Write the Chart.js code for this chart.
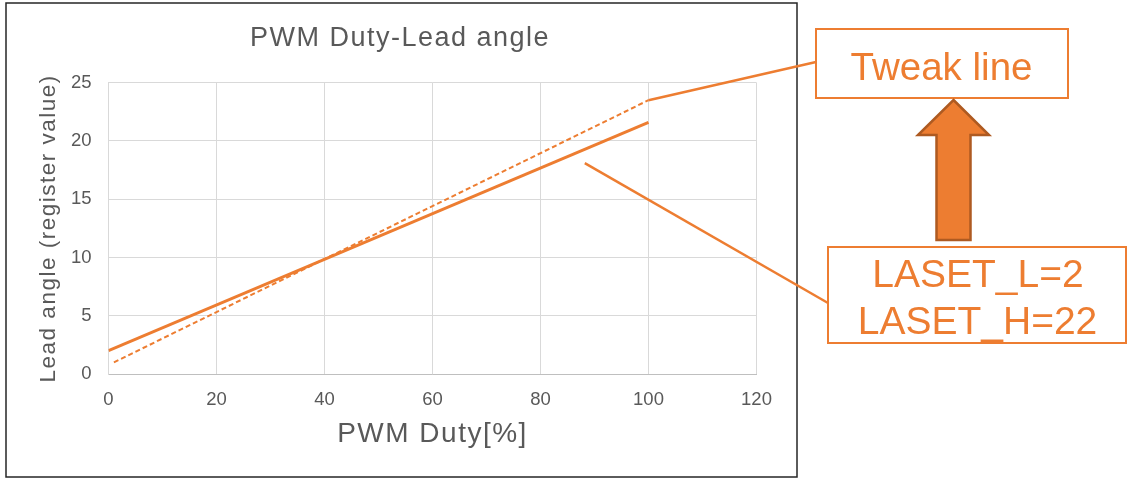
<!DOCTYPE html>
<html>
<head>
<meta charset="utf-8">
<title>PWM Duty-Lead angle</title>
<script src="https://cdn.jsdelivr.net/npm/chart.js@4"></script>
<style>
  html, body { margin: 0; padding: 0; background: #fff; }
  #wrap { width: 1127px; height: 478px; }
</style>
</head>
<body>
<div id="wrap"><canvas id="chart" width="1127" height="478"></canvas></div>
<script>
// Lead angle register value vs PWM duty
const dutySet = [0, 100];
const angleSet = [2, 21.6];          // LASET_L=2 / LASET_H=22 line
const dutyTweak = [1, 100];
const angleTweak = [1, 23.5];        // tweaked line (dashed)
const xTickMax = 120;
const yTickMax = 25;

const ORANGE = '#ED7D31';
const GREY_TEXT = '#595959';

Chart.defaults.font.family = "'Liberation Sans', Arial, sans-serif";
Chart.defaults.color = GREY_TEXT;

const toPoints = (xs, ys) => xs.map((x, i) => ({ x: x, y: ys[i] }));

// letter spacing for the titles only; tick labels are drawn after the datasets
const spacing = {
  id: 'spacing',
  beforeDraw(chart) {
    const ctx = chart.ctx;
    ctx.save();
    ctx.strokeStyle = '#262626';
    ctx.lineWidth = 1.5;
    ctx.strokeRect(6, 3, 791, 474);
    ctx.restore();
    ctx.letterSpacing = '1.5px';
  },
  beforeDatasetsDraw(chart) {
    chart.ctx.letterSpacing = '0px';
  }
};

// callout boxes, leader lines and the arrow
const callouts = {
  id: 'callouts',
  afterDraw(chart) {
    const ctx = chart.ctx;
    const xs = chart.scales.x, ys = chart.scales.y;
    const n = dutyTweak.length - 1;
    const endX = xs.getPixelForValue(dutyTweak[n]);
    const endY = ys.getPixelForValue(angleTweak[n]);

    ctx.save();
    ctx.letterSpacing = '0px';
    ctx.strokeStyle = ORANGE;
    ctx.lineWidth = 2.5;

    // leader to "Tweak line"
    ctx.beginPath();
    ctx.moveTo(endX, endY);
    ctx.lineTo(816, 62);
    ctx.stroke();

    // leader to LASET box
    ctx.beginPath();
    ctx.moveTo(xs.getPixelForValue(88.2), ys.getPixelForValue(18.1));
    ctx.lineTo(828, 303);
    ctx.stroke();

    // boxes
    ctx.lineWidth = 2;
    ctx.strokeRect(816, 29, 252, 69);
    ctx.strokeRect(828, 247, 298, 96);

    // arrow
    ctx.beginPath();
    ctx.moveTo(953.5, 100);
    ctx.lineTo(989, 135);
    ctx.lineTo(970.5, 135);
    ctx.lineTo(970.5, 240);
    ctx.lineTo(936.5, 240);
    ctx.lineTo(936.5, 135);
    ctx.lineTo(918, 135);
    ctx.closePath();
    ctx.fillStyle = ORANGE;
    ctx.fill();
    ctx.strokeStyle = '#AE5A21';
    ctx.lineWidth = 2.5;
    ctx.lineJoin = 'miter';
    ctx.stroke();

    // texts
    ctx.fillStyle = ORANGE;
    ctx.textAlign = 'center';
    ctx.textBaseline = 'alphabetic';
    ctx.font = "38.5px 'Liberation Sans', Arial, sans-serif";
    ctx.fillText('Tweak line', 941.5, 80);
    ctx.font = "39px 'Liberation Sans', Arial, sans-serif";
    ctx.fillText('LASET_L=2', 978, 286.5);
    ctx.fillText('LASET_H=22', 977.5, 333.5);
    ctx.restore();
  }
};

new Chart(document.getElementById('chart'), {
  type: 'line',
  data: {
    datasets: [
      {
        label: 'LASET',
        data: toPoints(dutySet, angleSet),
        borderColor: ORANGE,
        borderWidth: 3,
        pointRadius: 0,
        fill: false
      },
      {
        label: 'Tweak',
        data: toPoints(dutyTweak, angleTweak),
        borderColor: ORANGE,
        borderWidth: 2,
        borderDash: [5, 3],
        pointRadius: 0,
        fill: false
      }
    ]
  },
  options: {
    responsive: false,
    animation: false,
    layout: { padding: { left: 0, right: 327, top: 0, bottom: 0 } },
    plugins: {
      legend: { display: false },
      tooltip: { enabled: false },
      title: {
        display: true,
        text: 'PWM Duty-Lead angle',
        color: GREY_TEXT,
        font: { size: 27, weight: 'normal' },
        padding: { top: 22, bottom: 28.3 }
      }
    },
    scales: {
      x: {
        type: 'linear',
        min: 0,
        max: xTickMax,
        ticks: { stepSize: 20, color: GREY_TEXT, font: { size: 18.5 }, padding: 15, z: 1 },
        grid: { color: '#D9D9D9', lineWidth: 1, drawTicks: false },
        border: { color: '#BFBFBF', width: 1 },
        title: {
          display: true,
          text: 'PWM Duty[%]',
          color: GREY_TEXT,
          font: { size: 28 },
          padding: { top: 0, bottom: 26.6 }
        },
        afterFit(scale) { scale.height = 104; }
      },
      y: {
        type: 'linear',
        min: 0,
        max: yTickMax,
        ticks: { stepSize: 5, color: GREY_TEXT, font: { size: 18.5 }, padding: 17, z: 1 },
        grid: { color: '#D9D9D9', lineWidth: 1, drawTicks: false },
        border: { color: '#D9D9D9', width: 1 },
        title: {
          display: true,
          text: 'Lead angle (register value)',
          color: GREY_TEXT,
          font: { size: 22.5 },
          padding: { top: 35.5, bottom: 0 }
        },
        afterFit(scale) { scale.width = 108.5; }
      },
      // empty right-hand strip inside the chart frame
      yRight: {
        type: 'linear',
        position: 'right',
        min: 0,
        max: yTickMax,
        grid: { display: false },
        border: { display: false },
        ticks: { display: false },
        afterFit(scale) { scale.width = 43.5; }
      }
    }
  },
  plugins: [spacing, callouts]
});
</script>
</body>
</html>
